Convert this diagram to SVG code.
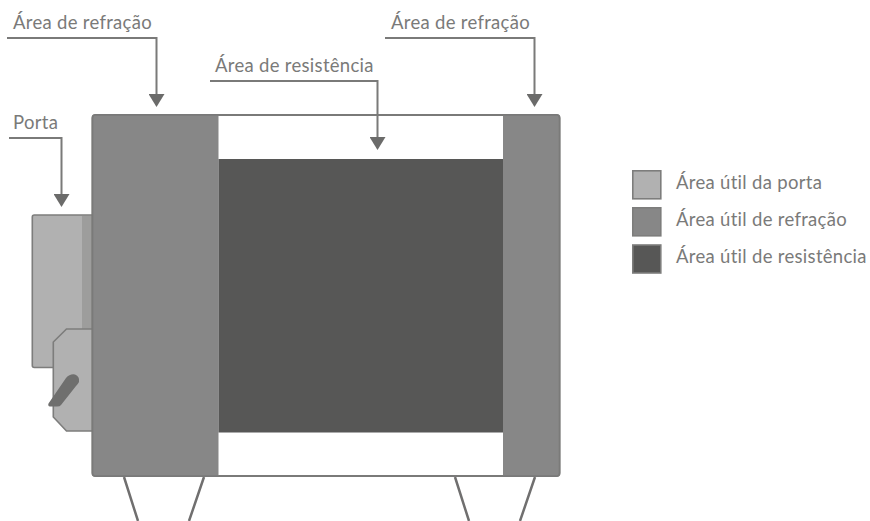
<svg xmlns="http://www.w3.org/2000/svg" width="870" height="521" viewBox="0 0 870 521">
<style>
text{font-family:Lato,"Open Sans","Liberation Sans",sans-serif;font-size:18.500px;letter-spacing:.3px;fill:#7a7a79}
.ln{fill:none;stroke:#7a7a79;stroke-width:2}
.leg{fill:none;stroke:#706f6f;stroke-width:2.500}
.door{fill:#b1b1b1;stroke:#7d7d7c;stroke-width:1.600}
.ref{fill:#878787}
.res{fill:#575756}
</style>
<defs>
<marker id="ah" markerUnits="userSpaceOnUse" markerWidth="13" markerHeight="16" refX="0" refY="8" orient="auto">
<path d="M0 0L13 8L0 16Z" fill="#6b6b6a"/>
</marker>
</defs>
<g id="legs">
<path class="leg" d="M124 477L138 521M204 477L189 521M455 477L469 521M535 477L520 521"/>
</g>
<g id="door">
<rect class="door" x="32.300" y="215" width="62" height="152.500" rx="2"/>
<rect x="82" y="216" width="11" height="113" fill="#9d9d9c"/>
<path class="door" d="M94 329H66.500L53.300 342V417L66.500 431H94Z"/>
<path d="M66 378Q70 373.500 75 374.500Q80 376.500 79 382Q78 384 76 386L61 405Q60 406.500 57 406.500H50Q47.500 406 48.500 403.500Z" fill="#6f6f6e"/>
</g>
<g id="body">
<rect x="92.500" y="115" width="467" height="361" rx="3" fill="#fff" stroke="#7a7a79" stroke-width="2"/>
</g>
<g id="refraction-left">
<path class="ref" d="M92.500 118a3 3 0 0 1 3-3H218.500V476H95.500a3 3 0 0 1-3-3Z"/>
<path d="M218.500 115H95.500a3 3 0 0 0-3 3V473a3 3 0 0 0 3 3H218.500" fill="none" stroke="#7a7a79" stroke-width="1.600"/>
</g>
<g id="resistance"><rect class="res" x="218.500" y="159" width="284.500" height="273.500"/></g>
<g id="refraction-right">
<path class="ref" d="M503 115H556.500a3 3 0 0 1 3 3V473a3 3 0 0 1-3 3H503Z"/>
<path d="M503 115H556.500a3 3 0 0 1 3 3V473a3 3 0 0 1-3 3H503" fill="none" stroke="#7a7a79" stroke-width="1.600"/>
</g>
<g id="connectors">
<path class="ln" marker-end="url(#ah)" d="M7 38H156.500V94"/>
<path class="ln" marker-end="url(#ah)" d="M210 81H377.500V137"/>
<path class="ln" marker-end="url(#ah)" d="M385 38H534.500V94"/>
<path class="ln" marker-end="url(#ah)" d="M9 138H61.500V194"/>
</g>
<g id="labels">
<text x="13" y="29">Área de refração</text>
<text x="215" y="72">Área de resistência</text>
<text x="391" y="29">Área de refração</text>
<text x="13" y="129">Porta</text>
</g>
<g id="legend-door"><rect class="door" x="632.800" y="170.800" width="28" height="28"/><text x="676" y="189">Área útil da porta</text></g>
<g id="legend-refraction"><rect class="ref" x="632.800" y="207.800" width="28" height="28" stroke="#7d7d7c" stroke-width="1.600"/><text x="676" y="226">Área útil de refração</text></g>
<g id="legend-resistance"><rect class="res" x="632.800" y="245" width="28" height="28" stroke="#7d7d7c" stroke-width="1.600"/><text x="676" y="263">Área útil de resistência</text></g>
</svg>
